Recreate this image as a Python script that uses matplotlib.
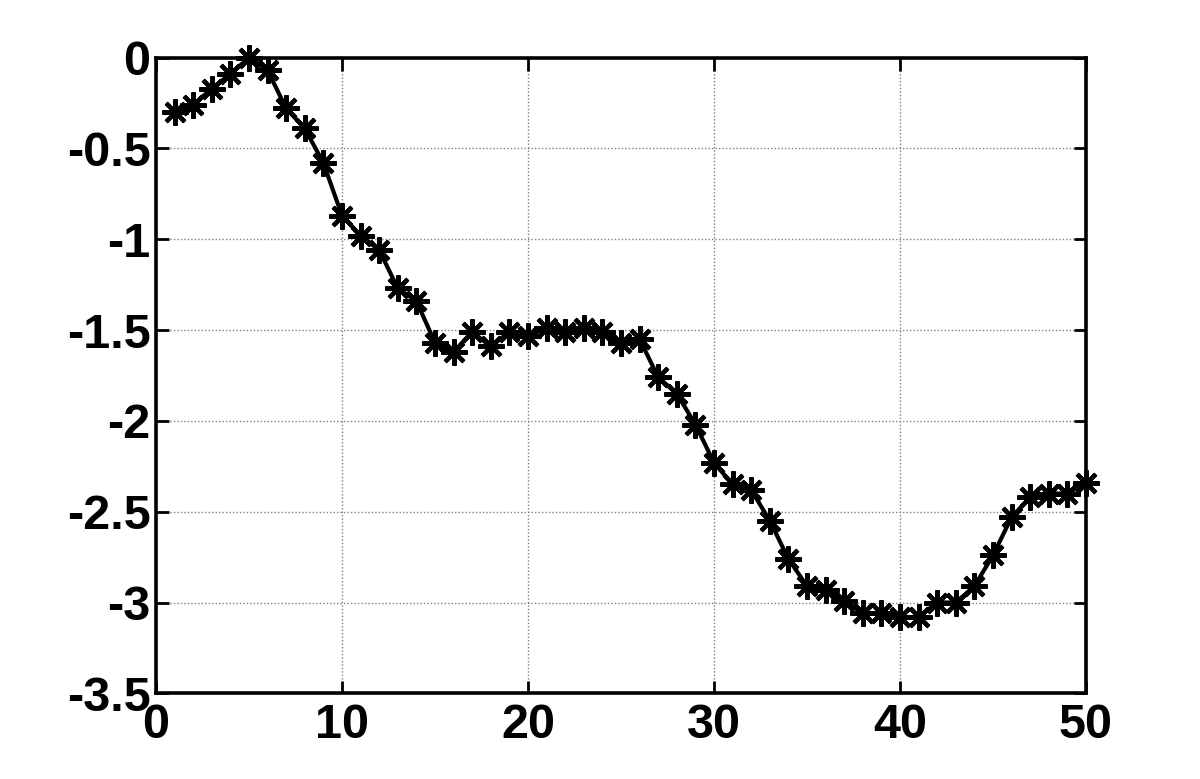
import matplotlib.pyplot as plt

# значення кривої
x = list(range(1, 51))
y = [-0.30, -0.26, -0.17, -0.09, 0.00, -0.07, -0.28, -0.39, -0.58, -0.87,
     -0.98, -1.06, -1.27, -1.34, -1.57, -1.62, -1.51, -1.59, -1.51, -1.53,
     -1.49, -1.51, -1.49, -1.51, -1.57, -1.55, -1.76, -1.85, -2.02, -2.23,
     -2.35, -2.38, -2.55, -2.76, -2.91, -2.93, -2.99, -3.06, -3.06, -3.08,
     -3.08, -3.00, -3.00, -2.91, -2.74, -2.53, -2.42, -2.40, -2.40, -2.34]

xticks = [0, 10, 20, 30, 40, 50]
yticks = [0, -0.5, -1, -1.5, -2, -2.5, -3, -3.5]
ytick_labels = ['0', '-0.5', '-1', '-1.5', '-2', '-2.5', '-3', '-3.5']

plt.rcParams['font.family'] = ['Liberation Sans', 'DejaVu Sans']
plt.rcParams['font.weight'] = 'bold'

fig = plt.figure(figsize=(12, 7.79), dpi=100)
ax = fig.add_axes([0.13, 0.110, 0.775, 0.816])

ax.plot(x, y, color='black', linewidth=3.0, marker=(8, 2, 0),
        markersize=19, markeredgewidth=3.0, clip_on=False, zorder=3)

ax.set_xlim(0, 50)
ax.set_ylim(-3.5, 0)
ax.set_xticks(xticks)
ax.set_yticks(yticks)
ax.set_yticklabels(ytick_labels)

ax.grid(True, color='#808080', linestyle=(0, (1, 1.5)), linewidth=1.0)
ax.tick_params(direction='in', length=9, width=2.0, labelsize=35,
               top=True, right=True)
ax.tick_params(axis='x', pad=7)
ax.tick_params(axis='y', pad=4)
for lbl in ax.get_xticklabels() + ax.get_yticklabels():
    lbl.set_fontweight('bold')
for s in ax.spines.values():
    s.set_linewidth(2.6)

fig.savefig('out.png', dpi=100)
